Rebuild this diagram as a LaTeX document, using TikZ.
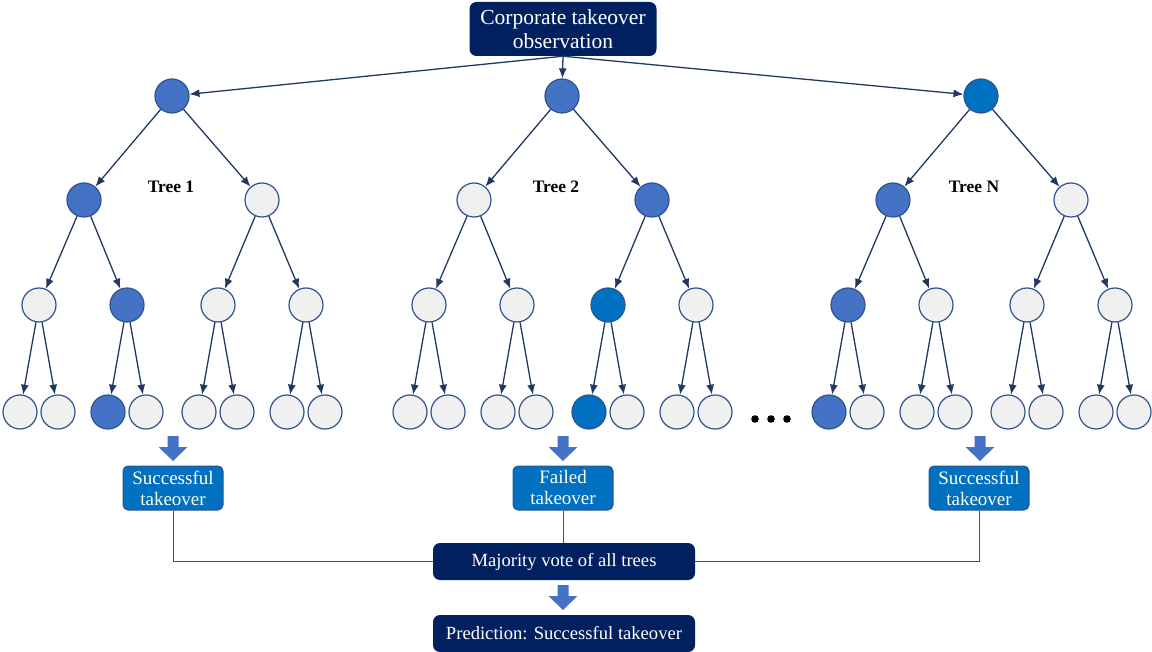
\documentclass[tikz,border=0pt]{standalone}
\usepackage{fontspec}
\setmainfont{Liberation Serif}
\usetikzlibrary{arrows.meta}

\definecolor{navy}{HTML}{002060}
\definecolor{linenavy}{HTML}{1F3864}
\definecolor{rim}{HTML}{2F528F}
\definecolor{blueA}{HTML}{4472C4}
\definecolor{blueB}{HTML}{0070C0}
\definecolor{greyfill}{HTML}{F0F0F0}

\tikzset{
    leaf/.style={circle, draw=rim, line width=1.2pt, fill=greyfill, minimum size=34pt, inner sep=0pt},
    hit/.style={leaf, fill=blueA},
    hot/.style={leaf, fill=blueB},
    edge/.style={-{Latex[length=10pt,width=8pt]}, draw=linenavy, line width=1.3pt},
    darkbox/.style={fill=navy, text=white, rounded corners=7pt, align=center, inner sep=2pt},
    resultbox/.style={fill=blueB, draw=rim, line width=1pt, text=white, rounded corners=5pt, align=center,
        minimum width=100pt, minimum height=44pt, inner sep=2pt, font=\fontsize{19}{21}\selectfont},
    treelabel/.style={font=\bfseries\fontsize{17.5}{20}\selectfont},
    blockarrow/.pic={\fill[blueA] (-5.5,0) -- (5.5,0) -- (5.5,11) -- (14.5,11) -- (0,25) -- (-14.5,11) -- (-5.5,11) -- cycle;}
}

\begin{document}
\begin{tikzpicture}[x=1pt, y=-1pt]
    \useasboundingbox (0,0) rectangle (1152,652);

    % observation
    \node[darkbox, minimum width=187pt, minimum height=54pt, font=\fontsize{21.5}{24}\selectfont] (obs) at (563,29) {Corporate takeover\\observation};

    % tree 1
    \begin{scope}[xshift=0pt]
        \node[hit] (t1r) at (172,96) {};
        \node[hit] (t1a) at (84,200) {}; \node[leaf] (t1b) at (262,200) {};
        \node[leaf] (t1aa) at (39,305) {}; \node[hit] (t1ab) at (127,305) {}; \node[leaf] (t1ba) at (218,305) {}; \node[leaf] (t1bb) at (306,305) {};
        \node[leaf] (t1aaa) at (20,412) {}; \node[leaf] (t1aab) at (58,412) {}; \node[hit] (t1aba) at (108,412) {}; \node[leaf] (t1abb) at (146,412) {};
        \node[leaf] (t1baa) at (199,412) {}; \node[leaf] (t1bab) at (237,412) {}; \node[leaf] (t1bba) at (287,412) {}; \node[leaf] (t1bbb) at (325,412) {};
    \end{scope}
    \node[treelabel] (lab1) at (171,187) {Tree 1};

    % tree 2
    \begin{scope}[xshift=390pt]
        \node[hit] (t2r) at (172,96) {};
        \node[leaf] (t2a) at (84,200) {}; \node[hit] (t2b) at (262,200) {};
        \node[leaf] (t2aa) at (39,305) {}; \node[leaf] (t2ab) at (127,305) {}; \node[hot] (t2ba) at (218,305) {}; \node[leaf] (t2bb) at (306,305) {};
        \node[leaf] (t2aaa) at (20,412) {}; \node[leaf] (t2aab) at (58,412) {}; \node[leaf] (t2aba) at (108,412) {}; \node[leaf] (t2abb) at (146,412) {};
        \node[hot] (t2baa) at (199,412) {}; \node[leaf] (t2bab) at (237,412) {}; \node[leaf] (t2bba) at (287,412) {}; \node[leaf] (t2bbb) at (325,412) {};
    \end{scope}
    \node[treelabel] (lab2) at (556,187) {Tree 2};

    % tree N
    \begin{scope}[xshift=809pt]
        \node[hot] (tnr) at (172,96) {};
        \node[hit] (tna) at (84,200) {}; \node[leaf] (tnb) at (262,200) {};
        \node[hit] (tnaa) at (39,305) {}; \node[leaf] (tnab) at (127,305) {}; \node[leaf] (tnba) at (218,305) {}; \node[leaf] (tnbb) at (306,305) {};
        \node[hit] (tnaaa) at (20,412) {}; \node[leaf] (tnaab) at (58,412) {}; \node[leaf] (tnaba) at (108,412) {}; \node[leaf] (tnabb) at (146,412) {};
        \node[leaf] (tnbaa) at (199,412) {}; \node[leaf] (tnbab) at (237,412) {}; \node[leaf] (tnbba) at (287,412) {}; \node[leaf] (tnbbb) at (325,412) {};
    \end{scope}
    \node[treelabel] (labn) at (974,187) {Tree N};

    % edges
    \foreach \t in {t1,t2,tn} {
        \draw[edge] (obs.south) -- (\t r);
        \foreach \p/\c in {r/a,r/b,a/aa,a/ab,b/ba,b/bb,aa/aaa,aa/aab,ab/aba,ab/abb,ba/baa,ba/bab,bb/bba,bb/bbb}
            \draw[edge] (\t\p) -- (\t\c);
    }

    % dots
    \fill (755,419) circle (3.8) (771,419) circle (3.8) (787,419) circle (3.8);

    % results
    \pic at (173,436) {blockarrow};
    \pic at (563,436) {blockarrow};
    \pic at (980,436) {blockarrow};
    \node[resultbox] (res1) at (173,488) {Successful\\takeover};
    \node[resultbox] (res2) at (563,488) {Failed\\takeover};
    \node[resultbox] (resn) at (979,488) {Successful\\takeover};

    % vote
    \node[darkbox, minimum width=262pt, minimum height=37pt, font=\fontsize{18.6}{21}\selectfont] (vote) at (564,561.5) {Majority vote of all trees};
    \draw[rim, line width=1pt] (res1.south) |- (vote.west);
    \draw[rim, line width=1pt] (resn.south) |- (vote.east);
    \draw[rim, line width=1pt] (res2.south) -- (res2.south |- vote.north);

    \pic at (563,585) {blockarrow};
    \node[darkbox, minimum width=262pt, minimum height=37pt, font=\fontsize{18.6}{21}\selectfont] (pred) at (564,633.5) {Prediction: Successful takeover};
\end{tikzpicture}
\end{document}
